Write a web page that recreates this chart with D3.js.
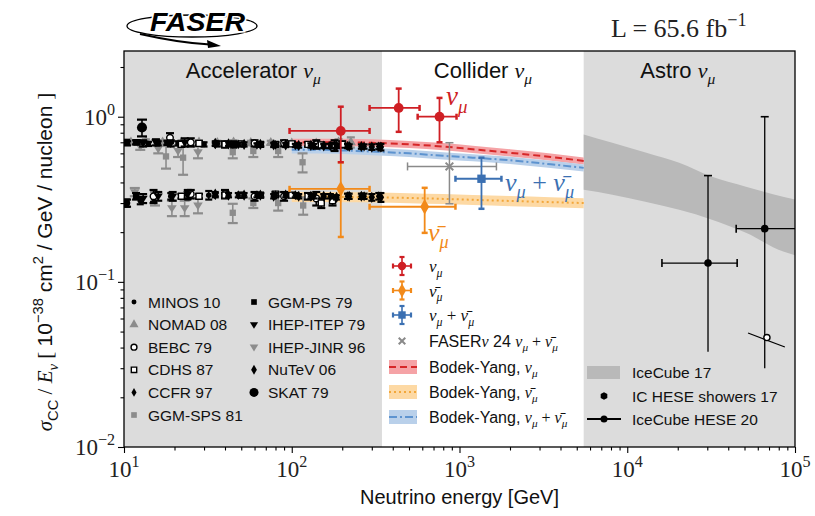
<!DOCTYPE html>
<html>
<head>
<meta charset="utf-8">
<script src="https://cdn.jsdelivr.net/npm/d3@7"></script>
<style>
  body { margin: 0; background: #fff; }
  text { font-family: "Liberation Sans", Arial, sans-serif; }
</style>
</head>
<body>
<div id="chart"></div>
<script>
// ---- data ----
const xTicks = [1e1, 1e2, 1e3, 1e4, 1e5];
const yTicks = [1e-2, 1e-1, 1e0];

// energy regions [GeV] and where their titles sit
const regionNames = ["Accelerator", "Collider", "Astro"];
const regionEdges = [10, 345, 5500, 1e5];
const regionLabelE = [59, 1380, 20000];

// accelerator data: [E, sigma/E, err]
const minosNu    = [[10.5,0.69,0.02],[12,0.70,0.02],[14,0.685,0.02],[16,0.69,0.02],[18,0.695,0.02],[21,0.69,0.02],[25,0.685,0.02],[30,0.68,0.02],[36,0.685,0.025],[45,0.68,0.03]];
const minosNubar = [[10.5,0.30,0.015],[12.5,0.31,0.015],[15,0.32,0.015],[19,0.33,0.015],[24,0.335,0.02],[32,0.335,0.02]];
const nomadNu    = [[11,0.70,0.02],[13.5,0.71,0.02],[17,0.70,0.02],[22,0.70,0.02],[28,0.70,0.02],[36,0.695,0.02],[45,0.70,0.02],[57,0.695,0.02],[75,0.695,0.02],[100,0.69,0.02],[140,0.69,0.025],[190,0.70,0.03],[225,0.70,0.05]];
const bebcNu     = [[18.8,0.745,0.05],[25,0.70,0.04],[40,0.68,0.03],[60,0.69,0.03],[90,0.69,0.03],[140,0.68,0.04],[180,0.67,0.05]];
const bebcNubar  = [[15,0.33,0.03],[25,0.34,0.02],[40,0.34,0.02],[60,0.33,0.02],[90,0.33,0.02],[140,0.32,0.03]];
const cdhsNu     = [[22,0.68,0.02],[28,0.69,0.02],[40,0.68,0.02],[50,0.685,0.02],[65,0.68,0.02],[80,0.68,0.02],[100,0.685,0.02],[125,0.68,0.02],[150,0.675,0.02],[175,0.67,0.025],[200,0.68,0.03]];
const cdhsNubar  = [[22,0.33,0.01],[28,0.33,0.01],[40,0.335,0.01],[50,0.335,0.01],[65,0.335,0.01],[80,0.34,0.01],[100,0.335,0.01],[125,0.33,0.015],[150,0.30,0.02],[175,0.31,0.02]];
const ccfrNu     = [[35,0.68,0.015],[48,0.68,0.015],[62,0.675,0.015],[80,0.675,0.015],[105,0.67,0.015],[135,0.67,0.015],[170,0.665,0.02],[215,0.665,0.02],[270,0.66,0.02],[330,0.66,0.025]];
const ccfrNubar  = [[35,0.335,0.01],[48,0.335,0.01],[62,0.335,0.01],[80,0.335,0.01],[105,0.335,0.01],[135,0.33,0.01],[170,0.33,0.01],[215,0.33,0.012],[270,0.33,0.012],[330,0.33,0.015]];
const ggmSpsNu   = [[17.8,0.575,0.09],[22.5,0.565,0.12],[44.5,0.61,0.05],[59,0.62,0.05],[83,0.62,0.05],[116,0.53,0.07]];
const ggmSpsNubar= [[44.5,0.262,0.035],[59,0.30,0.02],[83,0.30,0.03],[117,0.29,0.035]];
const ggmPsNu    = [[10.3,0.70,0.025],[11.8,0.70,0.02]];
const ggmPsNubar = [[10.3,0.30,0.015],[11.8,0.33,0.015]];
const itepNu     = [[13,0.69,0.03],[15.5,0.70,0.03],[19,0.69,0.03],[23,0.70,0.04]];
const itepNubar  = [[13,0.32,0.02],[16,0.33,0.02],[19.5,0.33,0.02],[24,0.34,0.02]];
const jinrNu     = [[12.5,0.66,0.03],[16,0.64,0.04],[21,0.62,0.05],[27.6,0.61,0.05]];
const jinrNubar  = [[11.6,0.35,0.02],[15.3,0.32,0.03],[19.3,0.28,0.03],[23,0.28,0.03],[27.6,0.29,0.03]];
const nutevNu    = [[35,0.69,0.02],[42,0.685,0.02],[52,0.68,0.02],[65,0.68,0.02],[78,0.675,0.02],[92,0.675,0.02],[110,0.67,0.02],[130,0.67,0.02],[155,0.665,0.02],[185,0.665,0.02],[220,0.66,0.02],[260,0.66,0.02],[300,0.655,0.025],[340,0.655,0.03]];
const nutevNubar = [[35,0.34,0.01],[42,0.335,0.01],[52,0.335,0.01],[65,0.335,0.01],[78,0.33,0.01],[92,0.335,0.01],[110,0.33,0.01],[130,0.33,0.01],[155,0.33,0.01],[185,0.325,0.01],[220,0.33,0.012],[260,0.33,0.012],[300,0.325,0.015],[340,0.325,0.02]];
const skatNu     = [[12.8,0.86,0.1]];

// FASER points: [E, val, valLo, valHi, eLo, eHi]
const faserNu    = [[196,0.82,0.53,1.15,97,291],[434,1.13,0.81,1.48,291,578],[760,1.0,0.70,1.30,563,960]];
const faserNubar = [[196,0.366,0.187,0.53,97,291],[620,0.285,0.198,0.371,291,946]];
const faserSum   = [[1352,0.421,0.277,0.565,946,1778]];
const faser24    = [[871,0.50,0.297,0.696,490,1660]];

// Bodek-Yang predictions
const byE     = [100, 150, 200, 300, 500, 800, 1200, 2000, 3500, 5500];
const byNu    = [0.70, 0.70, 0.70, 0.695, 0.68, 0.66, 0.635, 0.605, 0.57, 0.54];
const byNubar = [0.327, 0.327, 0.326, 0.325, 0.322, 0.318, 0.314, 0.309, 0.304, 0.30];
const bySum   = [0.63, 0.63, 0.625, 0.615, 0.60, 0.58, 0.565, 0.545, 0.515, 0.49];

// IceCube 17 band
const icE  = [5500, 8150, 13000, 20400, 32000, 51000, 86000, 100000];
const icHi = [0.78, 0.695, 0.605, 0.526, 0.433, 0.377, 0.327, 0.315];
const icLo = [0.361, 0.337, 0.305, 0.273, 0.238, 0.198, 0.152, 0.145];

// IceCube HESE 20: [E, val, valLo, valHi, eLo, eHi]
const hese20 = [[30300,0.13,0.0377,0.44,16100,45200],[66000,0.21,0.03,1.0,44600,2e5]];
// IC HESE showers 17
const heseShowers = [[68000,0.046]];
const heseShowerSeg = [[52500,0.049],[87000,0.0403]];

// ---- setup ----
const W = 815, H = 516;
const M = {l: 124, r: 795, t: 51, b: 447};
const SANS = '"Liberation Sans", Arial, sans-serif';
const SERIF = '"Liberation Serif", "Times New Roman", serif';

const svg = d3.select("#chart").append("svg")
  .attr("width", W).attr("height", H)
  .style("display", "block");

const x = d3.scaleLog().domain([10, 1e5]).range([M.l, M.r]);
const y = d3.scaleLog().domain([0.01, 2.5]).range([M.b, M.t]);

svg.append("clipPath").attr("id", "plotclip")
  .append("rect").attr("x", M.l).attr("y", M.t)
  .attr("width", M.r - M.l).attr("height", M.b - M.t);

// rich text helper: parts = [[string, kind]] with kind in sans / it / rm (+ -sub / -sup)
function rich(t, parts, fs) {
  let shift = 0;
  parts.forEach(([str, kind]) => {
    let target = 0, size = fs;
    if (kind.includes("sub")) { target = fs * 0.28; size = fs * 0.7; }
    if (kind.includes("sup")) { target = -fs * 0.42; size = fs * 0.7; }
    const fam = (kind.startsWith("it") || kind.startsWith("rm")) ? SERIF : SANS;
    t.append("tspan").text(str)
      .attr("dy", target - shift)
      .attr("font-size", size)
      .attr("font-family", fam)
      .attr("font-style", kind.startsWith("it") ? "italic" : "normal");
    shift = target;
  });
  return t;
}
const NU = "\u03bd", MU = "\u03bc", NUBAR = "\u03bd\u0304";

// ---- backgrounds ----
const regions = regionNames.map((n, i) => ({name: n, lo: regionEdges[i], hi: regionEdges[i + 1], lab: regionLabelE[i]}));
svg.append("g").selectAll("rect").data(regions).join("rect")
  .attr("x", d => x(d.lo)).attr("y", M.t)
  .attr("width", d => x(d.hi) - x(d.lo)).attr("height", M.b - M.t)
  .attr("fill", d => d.name === "Collider" ? "#ffffff" : "#dcdcdc");

const plot = svg.append("g").attr("clip-path", "url(#plotclip)");

// IceCube 17 band
const icRows = icE.map((e, i) => ({e, lo: icLo[i], hi: icHi[i]}));
plot.append("path").datum(icRows)
  .attr("fill", "#b9b9b9")
  .attr("d", d3.area().curve(d3.curveMonotoneX)
    .x(d => x(d.e)).y0(d => y(d.lo)).y1(d => y(d.hi)));

// Bodek-Yang bands
const bySeries = [
  {vals: byNu,    rel: 0.05, fill: "#f5a3a6", line: "#d62728", dash: "7,4"},
  {vals: bySum,   rel: 0.05, fill: "#b9d0ea", line: "#5d93cf", dash: "8,3,2,3"},
  {vals: byNubar, rel: 0.07, fill: "#fdd9a4", line: "#f3a73a", dash: "2,3"}
];
bySeries.forEach(s => {
  const rows = byE.map((e, i) => ({e, v: s.vals[i]}));
  plot.append("path").datum(rows)
    .attr("fill", s.fill)
    .attr("d", d3.area().curve(d3.curveMonotoneX)
      .x(d => x(d.e)).y0(d => y(d.v * (1 - s.rel))).y1(d => y(d.v * (1 + s.rel))));
  plot.append("path").datum(rows)
    .attr("fill", "none").attr("stroke", s.line).attr("stroke-width", 2)
    .attr("stroke-dasharray", s.dash)
    .attr("d", d3.line().curve(d3.curveMonotoneX).x(d => x(d.e)).y(d => y(d.v)));
});

// ---- error bars + markers ----
function triDown() {
  return {draw(ctx, s) { const r = Math.sqrt(s) * 0.62;
    ctx.moveTo(-r, -r * 0.6); ctx.lineTo(r, -r * 0.6); ctx.lineTo(0, r * 1.0); ctx.closePath(); }};
}
const hexagon = {draw(ctx, s) { const r = Math.sqrt(s) * 0.62;
  for (let i = 0; i < 6; i++) { const a = Math.PI / 6 + i * Math.PI / 3;
    i ? ctx.lineTo(r * Math.cos(a), r * Math.sin(a)) : ctx.moveTo(r * Math.cos(a), r * Math.sin(a)); }
  ctx.closePath(); }};

function errbars(g, rows, st) {
  const cw = st.cap || 3;
  rows.forEach(r => {
    const [E, v, vLo, vHi, eLo, eHi] = r;
    const cx = x(E), cy = y(v);
    const L = (x1, y1, x2, y2, w) => g.append("line")
      .attr("x1", x1).attr("y1", y1).attr("x2", x2).attr("y2", y2)
      .attr("stroke", st.color).attr("stroke-width", w || st.width);
    if (vLo != null) {
      L(cx, y(vLo), cx, y(vHi));
      if (st.capLo !== false) L(cx - cw, y(vLo), cx + cw, y(vLo), st.capW);
      L(cx - cw, y(vHi), cx + cw, y(vHi), st.capW);
    }
    if (eLo != null) {
      L(x(eLo), cy, x(eHi), cy);
      L(x(eLo), cy - cw, x(eLo), cy + cw, st.capW);
      L(x(eHi), cy - cw, x(eHi), cy + cw, st.capW);
    }
  });
}
function markers(g, rows, st) {
  g.selectAll(null).data(rows).join("path")
    .attr("transform", d => `translate(${x(d[0])},${y(d[1])})`)
    .attr("d", d3.symbol(st.sym, st.size))
    .attr("fill", st.fill).attr("stroke", st.stroke || "none")
    .attr("stroke-width", st.sw || 1.4);
}

const BLK = "#000", GRY = "#8c8c8c";
const accel = [
  {name: "GGM-SPS 81",   sets: [ggmSpsNu, ggmSpsNubar], sym: d3.symbolSquare, size: 40, fill: GRY, color: GRY, cap: 5},
  {name: "IHEP-JINR 96", sets: [jinrNu, jinrNubar], sym: triDown(), size: 60, fill: GRY, color: GRY, cap: 5},
  {name: "NOMAD 08",     sets: [nomadNu], sym: d3.symbolTriangle, size: 45, fill: GRY, color: GRY, cap: 4},
  {name: "MINOS 10",     sets: [minosNu, minosNubar], sym: d3.symbolCircle, size: 24, fill: BLK, color: BLK},
  {name: "BEBC 79",      sets: [bebcNu, bebcNubar], sym: d3.symbolCircle, size: 34, fill: "#fff", stroke: BLK, color: BLK, cap: 4},
  {name: "CDHS 87",      sets: [cdhsNu, cdhsNubar], sym: d3.symbolSquare, size: 36, fill: "#fff", stroke: BLK, color: BLK, cap: 4},
  {name: "CCFR 97",      sets: [ccfrNu, ccfrNubar], sym: d3.symbolDiamond, size: 28, fill: BLK, color: BLK},
  {name: "GGM-PS 79",    sets: [ggmPsNu, ggmPsNubar], sym: d3.symbolSquare, size: 40, fill: BLK, color: BLK, cap: 4},
  {name: "IHEP-ITEP 79", sets: [itepNu, itepNubar], sym: triDown(), size: 55, fill: BLK, color: BLK, cap: 4},
  {name: "NuTeV 06",     sets: [nutevNu, nutevNubar], sym: d3.symbolDiamond, size: 36, fill: BLK, color: BLK},
  {name: "SKAT 79",      sets: [skatNu], sym: d3.symbolCircle, size: 80, fill: BLK, color: BLK, cap: 5}
];
const accG = plot.append("g");
accel.forEach(ex => {
  ex.sets.forEach(set => {
    const rows = set.map(([E, v, e]) => [E, v, v - e, v + e]);
    errbars(accG, rows, {color: ex.color, width: 1.6, capW: 2.2, cap: ex.cap || 3.5});
    markers(accG, rows, ex);
  });
});

// FASER
const RED = "#cf1f24", ORG = "#f28a1a", BLU = "#3b70b2", FGRY = "#8a8a8a";
const fG = plot.append("g");
errbars(fG, faser24, {color: FGRY, width: 1.5, capW: 1.5, cap: 4});
markers(fG, faser24, {sym: d3.symbolTimes, size: 40, fill: "none", stroke: FGRY, sw: 2});
errbars(fG, faserNubar, {color: ORG, width: 1.8, capW: 2.5, cap: 3});
markers(fG, faserNubar, {sym: d3.symbolDiamond, size: 70, fill: ORG});
errbars(fG, faserNu, {color: RED, width: 1.8, capW: 2.5, cap: 3});
markers(fG, faserNu, {sym: d3.symbolCircle, size: 75, fill: RED});
errbars(fG, faserSum, {color: BLU, width: 1.8, capW: 2.5, cap: 3});
markers(fG, faserSum, {sym: d3.symbolSquare, size: 70, fill: BLU});

// IceCube
const iG = plot.append("g");
errbars(iG, hese20, {color: BLK, width: 1.3, capW: 1.6, cap: 4, capLo: false});
markers(iG, hese20, {sym: d3.symbolCircle, size: 45, fill: BLK});
iG.append("line")
  .attr("x1", x(heseShowerSeg[0][0])).attr("y1", y(heseShowerSeg[0][1]))
  .attr("x2", x(heseShowerSeg[1][0])).attr("y2", y(heseShowerSeg[1][1]))
  .attr("stroke", BLK).attr("stroke-width", 1.2);
markers(iG, heseShowers, {sym: d3.symbolCircle, size: 30, fill: "#fff", stroke: BLK, sw: 1.4});

// ---- axes ----
const minor = [];
for (let d = 1; d <= 4; d++) for (let k = 2; k <= 9; k++) minor.push(k * Math.pow(10, d));
const minorY = [];
for (let d = -2; d <= 0; d++) for (let k = 2; k <= 9; k++) if (k * Math.pow(10, d) <= 2.5) minorY.push(k * Math.pow(10, d));

const axG = svg.append("g");
axG.append("g").attr("transform", `translate(0,${M.b})`)
  .call(d3.axisBottom(x).tickValues(minor).tickSize(3.5).tickFormat(""));
axG.append("g").attr("transform", `translate(0,${M.b})`)
  .call(d3.axisBottom(x).tickValues(xTicks).tickSize(6).tickFormat(""));
axG.append("g").attr("transform", `translate(${M.l},0)`)
  .call(d3.axisLeft(y).tickValues(minorY).tickSize(3.5).tickFormat(""));
axG.append("g").attr("transform", `translate(${M.l},0)`)
  .call(d3.axisLeft(y).tickValues(yTicks).tickSize(6).tickFormat(""));
axG.selectAll(".domain").remove();
axG.selectAll(".tick line").attr("stroke", "#000").attr("stroke-width", 1.1);

svg.append("rect").attr("x", M.l).attr("y", M.t)
  .attr("width", M.r - M.l).attr("height", M.b - M.t)
  .attr("fill", "none").attr("stroke", "#000").attr("stroke-width", 1.3);

// tick labels
xTicks.forEach(v => {
  const t = svg.append("text").attr("x", x(v)).attr("y", M.b + 30)
    .attr("text-anchor", "middle").attr("fill", "#222");
  rich(t, [["10", "rm"], [String(Math.round(Math.log10(v))), "rm-sup"]], 23);
});
yTicks.forEach(v => {
  const e = Math.round(Math.log10(v));
  const t = svg.append("text").attr("x", M.l - 9).attr("y", y(v) + 8)
    .attr("text-anchor", "end").attr("fill", "#222");
  rich(t, [["10", "rm"], [e < 0 ? "\u2212" + (-e) : String(e), "rm-sup"]], 23);
});

// axis titles
svg.append("text").attr("x", (M.l + M.r) / 2).attr("y", 504)
  .attr("text-anchor", "middle").attr("font-size", 20).attr("fill", "#111")
  .text("Neutrino energy [GeV]");
const yl = svg.append("text").attr("text-anchor", "middle").attr("fill", "#111")
  .attr("transform", `translate(52,${(M.t + M.b) / 2 + 13}) rotate(-90)`);
rich(yl, [["\u03c3", "it"], ["CC", "sans-sub"], [" / ", "rm"], ["E", "it"], [NU, "it-sub"],
  [" [ ", "rm"], ["10", "sans"], ["\u221238", "sans-sup"], [" cm", "sans"], ["2", "sans-sup"],
  [" / GeV / nucleon ", "sans"], ["]", "rm"]], 21);

// region labels
regions.forEach(r => {
  const t = svg.append("text").attr("x", x(r.lab)).attr("y", 78)
    .attr("text-anchor", "middle").attr("fill", "#111");
  rich(t, [[r.name + " ", "sans"], [NU, "it"], [MU, "it-sub"]], 22);
});

// in-plot annotations
rich(svg.append("text").attr("x", 446).attr("y", 105).attr("fill", RED),
  [[NU, "it"], [MU, "it-sub"]], 27);
rich(svg.append("text").attr("x", 505).attr("y", 191).attr("fill", BLU),
  [[NU, "it"], [MU, "it-sub"], [" + ", "rm"], [NUBAR, "it"], [MU, "it-sub"]], 26);
rich(svg.append("text").attr("x", 428).attr("y", 241).attr("fill", ORG),
  [[NUBAR, "it"], [MU, "it-sub"]], 26);

// ---- legends ----
const lg1 = svg.append("g");
const col1 = ["MINOS 10", "NOMAD 08", "BEBC 79", "CDHS 87", "CCFR 97", "GGM-SPS 81"];
const col2 = ["GGM-PS 79", "IHEP-ITEP 79", "IHEP-JINR 96", "NuTeV 06", "SKAT 79"];
[col1, col2].forEach((col, ci) => {
  col.forEach((name, ri) => {
    const ex = accel.find(a => a.name === name);
    const mx = ci ? 254 : 134, my = 302 + ri * 22.6;
    lg1.append("path").attr("transform", `translate(${mx},${my})`)
      .attr("d", d3.symbol(ex.sym, ex.size * 0.8))
      .attr("fill", ex.fill).attr("stroke", ex.stroke || "none").attr("stroke-width", 1.4);
    lg1.append("text").attr("x", mx + 14).attr("y", my + 5.5)
      .attr("font-size", 15.5).attr("fill", "#111").text(name);
  });
});

const lg2 = svg.append("g");
const lg2Pts = [
  {c: RED, sym: d3.symbolCircle, label: [[NU, "it"], [MU, "it-sub"]]},
  {c: ORG, sym: d3.symbolDiamond, label: [[NUBAR, "it"], [MU, "it-sub"]]},
  {c: BLU, sym: d3.symbolSquare, label: [[NU, "it"], [MU, "it-sub"], [" + ", "rm"], [NUBAR, "it"], [MU, "it-sub"]]}
];
lg2Pts.forEach((p, i) => {
  const cx = 402, cy = 266 + i * 24.5;
  const L = (a, b, c2, d, w) => lg2.append("line").attr("x1", a).attr("y1", b).attr("x2", c2).attr("y2", d)
    .attr("stroke", p.c).attr("stroke-width", w);
  L(cx - 9, cy, cx + 9, cy, 1.6); L(cx, cy - 9, cx, cy + 9, 1.6);
  L(cx - 9, cy - 2.5, cx - 9, cy + 2.5, 2.2); L(cx + 9, cy - 2.5, cx + 9, cy + 2.5, 2.2);
  L(cx - 2.5, cy - 9, cx + 2.5, cy - 9, 2.2); L(cx - 2.5, cy + 9, cx + 2.5, cy + 9, 2.2);
  lg2.append("path").attr("transform", `translate(${cx},${cy})`)
    .attr("d", d3.symbol(p.sym, 55)).attr("fill", p.c);
  rich(lg2.append("text").attr("x", 429).attr("y", cy + 6).attr("fill", "#111"), p.label, 17);
});
lg2.append("path").attr("transform", "translate(402,341)")
  .attr("d", d3.symbol(d3.symbolTimes, 30)).attr("stroke", FGRY).attr("stroke-width", 2).attr("fill", "none");
rich(lg2.append("text").attr("x", 429).attr("y", 347).attr("fill", "#111"),
  [["FASER", "sans"], [NU, "it"], [" 24 ", "sans"], [NU, "it"], [MU, "it-sub"], [" + ", "rm"], [NUBAR, "it"], [MU, "it-sub"]], 16);
const lgBands = [
  {s: bySeries[0], label: [["Bodek-Yang, ", "sans"], [NU, "it"], [MU, "it-sub"]]},
  {s: bySeries[2], label: [["Bodek-Yang, ", "sans"], [NUBAR, "it"], [MU, "it-sub"]]},
  {s: bySeries[1], label: [["Bodek-Yang, ", "sans"], [NU, "it"], [MU, "it-sub"], [" + ", "rm"], [NUBAR, "it"], [MU, "it-sub"]]}
];
lgBands.forEach((b, i) => {
  const cy = 367 + i * 25;
  lg2.append("rect").attr("x", 389).attr("y", cy - 7).attr("width", 28).attr("height", 14).attr("fill", b.s.fill);
  lg2.append("line").attr("x1", 389).attr("x2", 417).attr("y1", cy).attr("y2", cy)
    .attr("stroke", b.s.line).attr("stroke-width", 2).attr("stroke-dasharray", b.s.dash);
  rich(lg2.append("text").attr("x", 429).attr("y", cy + 6).attr("fill", "#111"), b.label, 16);
});

const lg3 = svg.append("g");
lg3.append("rect").attr("x", 587).attr("y", 366).attr("width", 33).attr("height", 13).attr("fill", "#b9b9b9");
lg3.append("path").attr("transform", "translate(604,396)").attr("d", d3.symbol(hexagon, 38)).attr("fill", BLK);
lg3.append("line").attr("x1", 587).attr("x2", 621).attr("y1", 419).attr("y2", 419).attr("stroke", BLK).attr("stroke-width", 2);
lg3.append("circle").attr("cx", 604).attr("cy", 419).attr("r", 3.5).attr("fill", BLK);
["IceCube 17", "IC HESE showers 17", "IceCube HESE 20"].forEach((s, i) => {
  lg3.append("text").attr("x", 632).attr("y", 378 + i * 23.5).attr("font-size", 15.5).attr("fill", "#111").text(s);
});

// ---- header ----
const logo = svg.append("g");
logo.append("ellipse").attr("cx", 192).attr("cy", 26).attr("rx", 65).attr("ry", 11)
  .attr("fill", "none").attr("stroke", "#000").attr("stroke-width", 1.3);
logo.append("path").attr("d", "M140,34 Q180,43 210,44.5").attr("fill", "none").attr("stroke", "#000").attr("stroke-width", 2);
logo.append("path").attr("d", "M221,46 L207,40 L208,48 Z").attr("fill", "#000");
logo.append("text").attr("x", 150).attr("y", 31).attr("font-size", 26).attr("font-weight", 900)
  .attr("font-style", "italic").attr("textLength", 95).attr("lengthAdjust", "spacingAndGlyphs")
  .attr("stroke", "#fff").attr("stroke-width", 3).attr("paint-order", "stroke").text("FASER");

rich(svg.append("text").attr("x", 611).attr("y", 37).attr("fill", "#222"),
  [["L = 65.6 fb", "rm"], ["\u22121", "rm-sup"]], 26);
</script>
</body>
</html>
